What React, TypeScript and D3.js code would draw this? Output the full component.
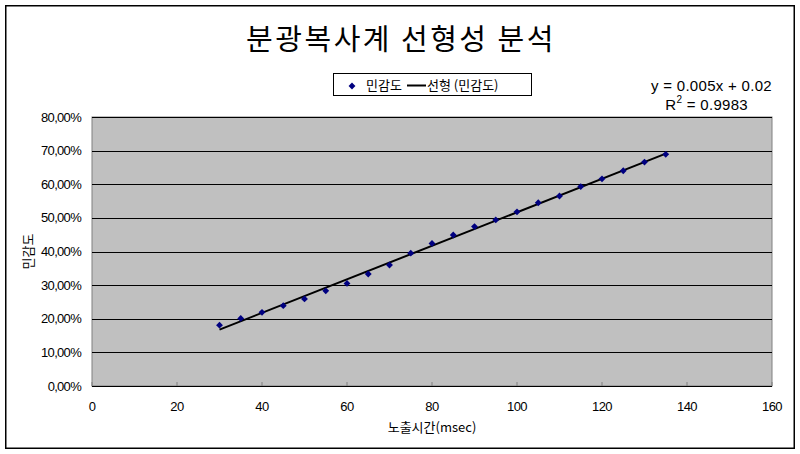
import React from "react";
import * as d3 from "d3";

const exposureMs = [30, 35, 40, 45, 50, 55, 60, 65, 70, 75, 80, 85, 90, 95, 100, 105, 110, 115, 120, 125, 130, 135];
const sensitivity = [0.181, 0.201, 0.219, 0.239, 0.259, 0.283, 0.305, 0.333, 0.36, 0.395, 0.424, 0.449, 0.474, 0.494, 0.518, 0.545, 0.565, 0.593, 0.616, 0.64, 0.666, 0.689];
const xTicks = [0, 20, 40, 60, 80, 100, 120, 140, 160];
const yTicks = [0, 0.1, 0.2, 0.3, 0.4, 0.5, 0.6, 0.7, 0.8];
const titleText = "분광복사계 선형성 분석";
const xTitle = "노출시간(msec)";
const yTitle = "민감도";
const seriesName = "민감도";
const trendName = "선형 (민감도)";

const W = 800;
const H = 454;
const plot = { left: 92, right: 772, top: 117, bottom: 386 };
const FONT = "'Liberation Sans', 'Noto Sans CJK KR', sans-serif";
const KFONT = "'Noto Sans CJK KR', sans-serif";

export default function App() {
  const x = d3.scaleLinear().domain([0, 160]).range([plot.left, plot.right]);
  const y = d3.scaleLinear().domain([0, 0.8]).range([plot.bottom, plot.top]);

  const n = exposureMs.length;
  const mx = d3.mean(exposureMs) as number;
  const my = d3.mean(sensitivity) as number;
  let sxy = 0, sxx = 0;
  for (let i = 0; i < n; i++) {
    sxy += (exposureMs[i] - mx) * (sensitivity[i] - my);
    sxx += (exposureMs[i] - mx) ** 2;
  }
  const slope = sxy / sxx;
  const intercept = my - slope * mx;
  const x0 = d3.min(exposureMs) as number;
  const x1 = d3.max(exposureMs) as number;
  const line = d3.line<number>().x((d) => x(d)).y((d) => y(slope * d + intercept));
  const diamond = d3.symbol().type(d3.symbolDiamond2).size(30)() as string;
  const fmtY = (v: number) => (v * 100).toFixed(2).replace(".", ",") + "%";

  return (
    <svg width={W} height={H} style={{ position: "absolute", left: 0, top: 0 }}>
      <rect x={0} y={0} width={W} height={H} fill="#ffffff" />
      <rect x={5.75} y={5.75} width={788.5} height={442.5} fill="none" stroke="#000" strokeWidth={1.5} />
      <text x={401} y={50} textAnchor="middle" fontFamily={KFONT} fontSize={29} letterSpacing={2.5} fill="#000">{titleText}</text>

      <rect x={plot.left} y={plot.top} width={plot.right - plot.left} height={plot.bottom - plot.top} fill="#c0c0c0" stroke="#808080" strokeWidth={1} />
      {yTicks.slice(1).map((t) => (
        <line key={"g" + t} x1={plot.left} x2={plot.right} y1={Math.round(y(t)) + 0.5} y2={Math.round(y(t)) + 0.5} stroke="#000" strokeWidth={1} />
      ))}
      <line x1={plot.left} x2={plot.right} y1={plot.bottom + 0.5} y2={plot.bottom + 0.5} stroke="#000" strokeWidth={1} />
      {xTicks.map((t) => (
        <line key={"xt" + t} x1={x(t)} x2={x(t)} y1={plot.bottom} y2={plot.bottom - 4} stroke="#808080" strokeWidth={1} />
      ))}
      {yTicks.map((t) => (
        <text key={"yl" + t} x={81} y={y(t) + 4.5} textAnchor="end" fontFamily={FONT} fontSize={13} letterSpacing={-0.7} fill="#000">{fmtY(t)}</text>
      ))}
      {xTicks.map((t) => (
        <text key={"xl" + t} x={x(t)} y={411} textAnchor="middle" fontFamily={FONT} fontSize={13} letterSpacing={-0.6} fill="#000">{t}</text>
      ))}
      <text x={432} y={432} textAnchor="middle" fontFamily={KFONT} fontSize={13} fill="#000">{xTitle}</text>
      <text transform={`translate(33,${(plot.top + plot.bottom) / 2}) rotate(-90)`} textAnchor="middle" fontFamily={KFONT} fontSize={13} fill="#000">{yTitle}</text>

      <path d={line([x0, x1]) as string} fill="none" stroke="#000" strokeWidth={2} />
      {exposureMs.map((v, i) => (
        <path key={"p" + i} d={diamond} transform={`translate(${x(v)},${y(sensitivity[i])})`} fill="#000080" />
      ))}

      <rect x={333.5} y={73.5} width={198} height={22} fill="#fff" stroke="#000" strokeWidth={1} />
      <path d={diamond} transform="translate(352,86)" fill="#000080" />
      <text x={366} y={90} fontFamily={KFONT} fontSize={13} fill="#000">{seriesName}</text>
      <line x1={407} x2={426} y1={85.5} y2={85.5} stroke="#000" strokeWidth={2} />
      <text x={427} y={90} fontFamily={KFONT} fontSize={13} fill="#000">{trendName}</text>

      <text x={772} y={91} textAnchor="end" fontFamily={FONT} fontSize={15} letterSpacing={0.3} fill="#000">
        {`y = ${slope.toFixed(3)}x + ${intercept.toFixed(2)}`}
      </text>
      <text x={748} y={110} textAnchor="end" fontFamily={FONT} fontSize={15} letterSpacing={0.3} fill="#000">
        R<tspan dy={-7} fontSize={10}>2</tspan><tspan dy={7}>{" = 0.9983"}</tspan>
      </text>
    </svg>
  );
}
